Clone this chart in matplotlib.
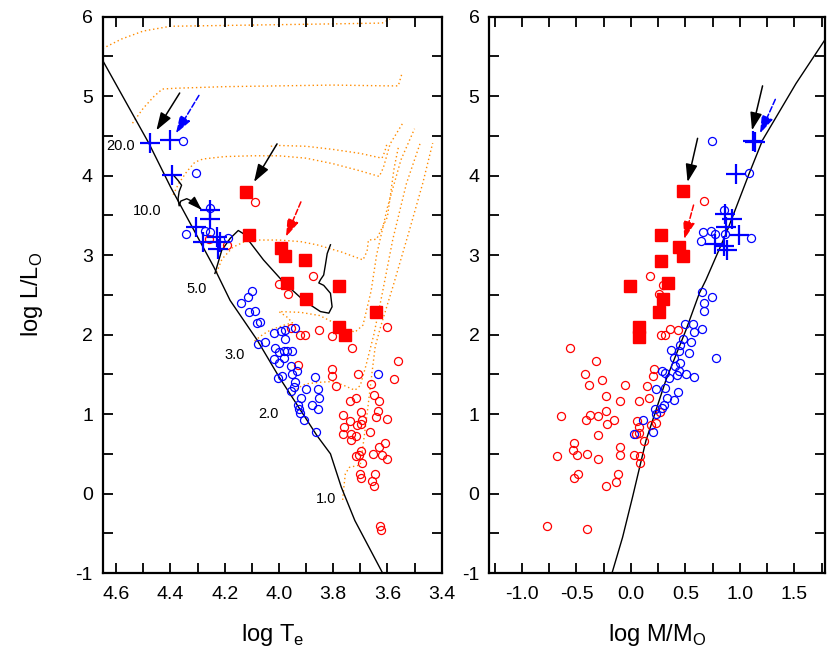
import matplotlib.pyplot as plt
from matplotlib.ticker import MultipleLocator, FormatStrFormatter

plt.rcParams['font.family'] = ['Liberation Sans', 'DejaVu Sans']
plt.rcParams['mathtext.fontset'] = 'custom'
plt.rcParams['mathtext.rm'] = 'Liberation Sans'
plt.rcParams['axes.unicode_minus'] = False

# ---- left panel: HR diagram (log Te, log L) ----
zams_left = [(4.70, 5.78), (4.65, 5.45), (4.48, 4.41), (4.40, 3.86), (4.24, 2.85), (4.18, 2.43),
             (4.08, 1.93), (4.00, 1.47), (3.86, 0.73), (3.81, 0.50), (3.77, 0.08),
             (3.72, -0.34), (3.61, -1.05)]

mass_labels = ['20.0', '10.0', '5.0', '3.0', '2.0', '1.0']
mass_label_T = [4.584, 4.486, 4.304, 4.162, 4.040, 3.825]
mass_label_L = [4.37, 3.56, 2.58, 1.74, 1.00, -0.07]

tracks = [
    [(4.65, 5.60), (4.58, 5.72), (4.50, 5.82), (4.40, 5.88), (4.20, 5.89), (4.00, 5.90),
     (3.80, 5.91), (3.62, 5.92), (3.59, 5.97)],
    [(4.54, 4.66), (4.50, 4.85), (4.46, 5.00), (4.43, 5.09), (4.38, 5.10), (4.20, 5.12),
     (4.00, 5.13), (3.80, 5.14), (3.60, 5.13), (3.56, 5.13), (3.545, 5.30)],
    [(4.03, 4.37), (4.00, 4.38), (3.90, 4.37), (3.80, 4.33), (3.70, 4.28), (3.62, 4.22),
     (3.61, 4.30), (3.60, 4.42)],
    [(4.39, 3.76), (4.37, 3.90), (4.34, 4.05), (4.31, 4.17), (4.28, 4.21), (4.20, 4.24),
     (4.10, 4.25), (4.00, 4.25), (3.90, 4.22), (3.80, 4.15), (3.70, 4.06), (3.63, 3.99),
     (3.615, 4.10), (3.59, 4.40), (3.54, 4.68)],
    [(4.23, 2.78), (4.21, 2.95), (4.17, 3.10), (4.12, 3.18), (4.08, 3.19), (4.00, 3.19),
     (3.92, 3.17), (3.86, 3.13), (3.77, 3.04), (3.69, 2.94), (3.675, 3.05), (3.67, 3.19),
     (3.64, 3.20), (3.60, 3.48), (3.575, 4.10), (3.56, 4.35)],
    [(4.09, 1.92), (4.06, 2.00), (4.03, 2.06), (3.98, 2.12), (3.95, 2.15), (3.97, 2.22),
     (4.00, 2.29), (3.92, 2.28), (3.85, 2.24), (3.78, 2.12), (3.72, 2.03), (3.69, 2.12),
     (3.66, 2.55), (3.64, 3.00), (3.60, 3.60), (3.55, 4.20), (3.50, 4.59)],
    [(3.95, 1.22), (3.93, 1.33), (3.90, 1.38), (3.85, 1.40), (3.80, 1.41), (3.76, 1.36),
     (3.72, 1.30), (3.70, 1.36), (3.68, 1.60), (3.65, 2.00), (3.62, 2.50), (3.58, 3.20),
     (3.53, 3.90), (3.48, 4.40)],
    [(3.765, -0.08), (3.76, 0.10), (3.755, 0.25), (3.74, 0.33), (3.70, 0.36), (3.69, 0.60),
     (3.675, 1.00), (3.66, 1.43), (3.645, 1.85), (3.625, 2.10), (3.58, 2.60), (3.52, 3.30),
     (3.47, 3.90), (3.433, 4.41)],
]

binary_a = [(4.390, 4.01), (4.372, 3.94), (4.359, 3.88), (4.368, 3.80), (4.372, 3.71),
            (4.368, 3.62), (4.362, 3.68), (4.340, 3.71), (4.315, 3.67), (4.285, 3.57)]
binary_b = [(4.236, 2.77), (4.211, 3.06), (4.180, 3.21), (4.150, 3.31), (4.131, 3.27),
            (4.057, 2.94), (3.983, 2.66), (3.909, 2.43), (3.847, 2.29), (3.816, 2.27),
            (3.804, 2.35), (3.810, 2.52), (3.835, 2.62), (3.853, 2.65), (3.847, 2.69),
            (3.835, 2.75), (3.829, 2.87), (3.822, 3.02), (3.810, 3.13)]

blue_open_left = [(4.353, 4.44), (4.304, 4.03), (4.254, 3.59), (4.341, 3.27), (4.273, 3.31),
                  (4.254, 3.29), (4.187, 3.21),
                  (4.098, 2.55), (4.113, 2.47), (4.141, 2.40), (4.109, 2.29), (4.087, 2.30),
                  (4.081, 2.14), (4.070, 2.16), (4.020, 2.02), (3.991, 2.04), (3.976, 2.06),
                  (3.942, 2.08), (3.978, 1.94), (4.050, 1.91), (4.076, 1.88), (4.015, 1.83),
                  (3.998, 1.78), (3.980, 1.79), (3.970, 1.80), (3.951, 1.80), (4.020, 1.69),
                  (3.983, 1.71), (4.001, 1.64), (3.954, 1.61), (3.933, 1.54), (3.952, 1.51),
                  (3.989, 1.48), (4.004, 1.46), (3.940, 1.40), (3.946, 1.34), (3.954, 1.29),
                  (3.901, 1.32), (3.866, 1.47), (3.857, 1.31), (3.919, 1.20), (3.930, 1.12),
                  (3.853, 1.20), (3.878, 1.12), (3.856, 1.07), (3.926, 1.07), (3.924, 1.01),
                  (3.906, 0.93), (3.862, 0.78), (3.635, 1.51)]

red_open_left = [(4.088, 3.67), (4.257, 3.20), (4.190, 3.13), (3.874, 2.74), (4.001, 2.64),
                 (3.968, 2.51), (3.603, 2.10), (3.853, 2.06), (3.954, 2.08), (3.924, 1.99),
                 (3.903, 1.99), (3.804, 1.98), (3.931, 1.62), (3.806, 1.57), (3.806, 1.48),
                 (3.790, 1.35), (3.730, 1.83), (3.561, 1.67), (3.707, 1.51), (3.576, 1.44),
                 (3.662, 1.38), (3.650, 1.24), (3.631, 1.17), (3.717, 1.20), (3.739, 1.17),
                 (3.696, 1.03), (3.635, 1.04), (3.763, 0.99), (3.643, 0.96), (3.600, 0.94),
                 (3.739, 0.91), (3.693, 0.93), (3.711, 0.86), (3.699, 0.87), (3.761, 0.84),
                 (3.665, 0.78), (3.764, 0.75), (3.714, 0.73), (3.733, 0.75), (3.736, 0.67),
                 (3.609, 0.64), (3.631, 0.58), (3.699, 0.54), (3.653, 0.50), (3.619, 0.49),
                 (3.603, 0.44), (3.714, 0.47), (3.705, 0.49), (3.695, 0.38), (3.701, 0.24),
                 (3.696, 0.20), (3.646, 0.24), (3.658, 0.16), (3.650, 0.09), (3.627, -0.41),
                 (3.625, -0.46)]

squares_left = [(4.121, 3.80), (4.110, 3.25), (3.991, 3.09), (3.979, 2.99), (3.903, 2.94),
                (3.970, 2.65), (3.899, 2.45), (3.777, 2.61), (3.777, 2.10), (3.757, 1.99),
                (3.643, 2.28)]

crosses_left = [(4.477, 4.41), (4.403, 4.45), (4.396, 4.01), (4.254, 3.57), (4.254, 3.46),
                (4.304, 3.36), (4.230, 3.23), (4.279, 3.17), (4.217, 3.17), (4.224, 3.08)]

# arrows: (x_from, y_from, x_to, y_to, colour, dashed)
arrows_left = [(4.366, 5.04, 4.452, 4.57, 'black', False),
               (4.295, 5.01, 4.380, 4.53, 'blue', True),
               (4.007, 4.40, 4.092, 3.92, 'black', False),
               (3.919, 3.67, 3.974, 3.23, 'red', True)]

# ---- right panel: mass-luminosity (log M, log L) ----
ml_relation = [(-0.20, -1.10), (-0.174, -1.0), (-0.077, -0.55), (0.015, -0.04), (0.138, 0.67),
               (0.321, 1.43), (0.505, 2.06), (0.627, 2.52), (0.688, 2.69), (0.872, 3.27),
               (1.085, 4.03), (1.208, 4.45), (1.514, 5.16), (1.789, 5.73)]

blue_open_right = [(0.740, 4.44), (1.085, 4.03), (0.856, 3.57), (0.663, 3.29), (0.734, 3.31),
                   (0.773, 3.26), (0.865, 3.27), (0.642, 3.18), (1.101, 3.21),
                   (0.648, 2.54), (0.743, 2.47), (0.672, 2.40), (0.666, 2.30), (0.498, 2.13),
                   (0.565, 2.13), (0.581, 2.03), (0.654, 2.07), (0.474, 1.94), (0.550, 1.91),
                   (0.452, 1.87), (0.367, 1.81), (0.443, 1.80), (0.528, 1.77), (0.780, 1.71),
                   (0.397, 1.70), (0.452, 1.64), (0.404, 1.60), (0.281, 1.54), (0.315, 1.52),
                   (0.505, 1.50), (0.574, 1.47), (0.418, 1.49), (0.351, 1.46), (0.443, 1.54),
                   (0.315, 1.33), (0.226, 1.32), (0.428, 1.28), (0.330, 1.20), (0.397, 1.18),
                   (0.306, 1.12), (0.281, 1.08), (0.223, 1.06), (0.229, 1.00), (0.113, 0.93),
                   (0.198, 0.78), (0.030, 0.75)]

red_open_right = [(0.672, 3.68), (0.174, 2.74), (0.290, 2.63), (0.253, 2.51),
                  (-0.557, 1.83), (-0.321, 1.67), (-0.422, 1.51), (-0.389, 1.37), (-0.270, 1.43),
                  (-0.052, 1.37), (-0.229, 1.23), (-0.098, 1.17), (0.070, 1.16), (0.143, 1.35),
                  (0.161, 1.20), (0.198, 1.48), (0.214, 1.57), (0.275, 2.00), (0.315, 1.99),
                  (0.361, 2.07), (0.431, 2.06), (-0.642, 0.97), (-0.413, 0.93), (-0.373, 0.99),
                  (-0.303, 0.98), (-0.229, 1.04), (-0.224, 0.87), (-0.156, 0.92), (-0.303, 0.74),
                  (-0.527, 0.64), (-0.529, 0.55), (-0.499, 0.49), (-0.683, 0.47), (-0.401, 0.50),
                  (-0.306, 0.44), (-0.098, 0.59), (-0.098, 0.49), (-0.486, 0.25), (-0.527, 0.20),
                  (-0.123, 0.24), (-0.138, 0.15), (-0.227, 0.09), (0.024, 0.49), (0.085, 0.47),
                  (0.083, 0.38), (0.051, 0.91), (0.076, 0.84), (0.046, 0.75), (0.076, 0.76),
                  (0.122, 0.66), (0.183, 0.86), (0.229, 0.89), (0.269, 1.02), (-0.774, -0.41),
                  (-0.404, -0.45)]

squares_right = [(0.473, 3.81), (0.275, 3.25), (0.443, 3.10), (0.473, 2.99), (0.275, 2.93),
                 (0.342, 2.65), (0.296, 2.45), (-0.006, 2.61), (0.076, 2.10), (0.076, 1.97),
                 (0.253, 2.28)]

crosses_right = [(1.116, 4.44), (1.138, 4.42), (0.960, 4.02), (0.860, 3.52), (0.930, 3.45),
                 (0.870, 3.35), (0.990, 3.25), (0.770, 3.14), (0.850, 3.12), (0.880, 3.06)]

arrows_right = [(1.207, 5.13, 1.110, 4.57, 'black', False),
                (1.324, 4.96, 1.183, 4.53, 'blue', True),
                (0.611, 4.47, 0.519, 3.92, 'black', False),
                (0.574, 3.63, 0.489, 3.20, 'red', True)]


def xy(points):
    return [p[0] for p in points], [p[1] for p in points]


def draw_arrows(ax, arrows):
    for x0, y0, x1, y1, c, dashed in arrows:
        ax.annotate('', xy=(x1, y1), xytext=(x0, y0),
                    arrowprops=dict(arrowstyle='-|>,head_length=0.6,head_width=0.2',
                                    color=c, lw=1.1, linestyle='--' if dashed else '-',
                                    mutation_scale=18, shrinkA=0, shrinkB=0), zorder=6)


def points(ax, left_or_right):
    if left_or_right == 'left':
        blue, red, sq, cr = blue_open_left, red_open_left, squares_left, crosses_left
    else:
        blue, red, sq, cr = blue_open_right, red_open_right, squares_right, crosses_right
    ax.plot(*xy(red), 'o', ms=5.8, mfc='none', mec='red', mew=0.9, zorder=3)
    ax.plot(*xy(blue), 'o', ms=5.8, mfc='none', mec='blue', mew=0.9, zorder=3)
    ax.plot(*xy(sq), 's', ms=9, color='red', zorder=4)
    ax.plot(*xy(cr), '+', ms=15, color='blue', mew=1.6, zorder=5)


fig = plt.figure(figsize=(8.3, 6.61), dpi=100)
ax1 = fig.add_axes([0.1237, 0.1331, 0.4084, 0.8416])
ax2 = fig.add_axes([0.5895, 0.1331, 0.4045, 0.8416])

# Left panel
for tr in tracks:
    ax1.plot(*xy(tr), color='darkorange', lw=1.0, ls=(0, (1, 2)), zorder=1)
ax1.plot(*xy(zams_left), color='black', lw=1.0, zorder=2)
ax1.plot(*xy(binary_a), color='black', lw=1.0, zorder=2)
ax1.annotate('', xy=binary_a[-1], xytext=binary_a[-2],
             arrowprops=dict(arrowstyle='-|>,head_length=0.6,head_width=0.2', color='black',
                             lw=1.0, mutation_scale=14, shrinkA=0, shrinkB=0))
ax1.plot(*xy(binary_b), color='black', lw=1.0, zorder=2)
for lab, t, l in zip(mass_labels, mass_label_T, mass_label_L):
    ax1.text(t, l, lab, fontsize=10.5, ha='center', va='center')
points(ax1, 'left')
draw_arrows(ax1, arrows_left)

ax1.set_xlim(4.65, 3.4)
ax1.xaxis.set_major_locator(MultipleLocator(0.2))
ax1.xaxis.set_minor_locator(MultipleLocator(0.1))
ax1.set_xlabel(r'log T$_\mathregular{e}$', fontsize=17, labelpad=14)
ax1.set_ylabel(r'log L/L$_\mathregular{O}$', fontsize=17, labelpad=22)

# Right panel
ax2.plot(*xy(ml_relation), color='black', lw=1.0, zorder=2)
points(ax2, 'right')
draw_arrows(ax2, arrows_right)

ax2.set_xlim(-1.3, 1.78)
ax2.xaxis.set_major_locator(MultipleLocator(0.5))
ax2.xaxis.set_minor_locator(MultipleLocator(0.25))
ax2.set_xlabel(r'log M/M$_\mathregular{O}$', fontsize=17, labelpad=14)

for ax in (ax1, ax2):
    ax.set_ylim(-1, 6)
    ax.yaxis.set_major_locator(MultipleLocator(1))
    ax.yaxis.set_minor_locator(MultipleLocator(0.5))
    ax.xaxis.set_major_formatter(FormatStrFormatter('%.1f'))
    ax.tick_params(which='both', direction='in', top=True, right=True,
                   length=7, width=1.3, labelsize=14)
    ax.tick_params(axis='x', pad=9)
    ax.tick_params(axis='y', pad=7)
    for s in ax.spines.values():
        s.set_linewidth(1.6)

fig.savefig('out.png', dpi=100)
